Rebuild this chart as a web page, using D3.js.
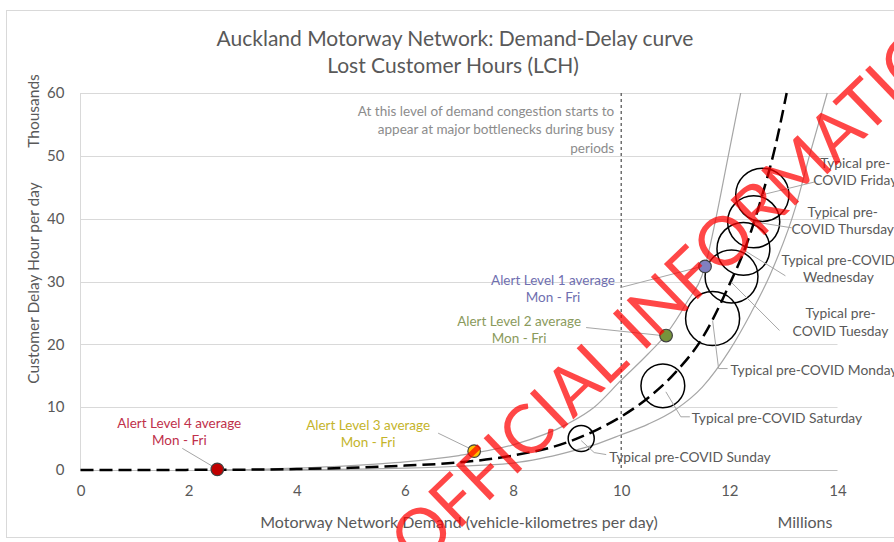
<!DOCTYPE html>
<html>
<head>
<meta charset="utf-8">
<script src="https://cdn.jsdelivr.net/npm/d3@7"></script>
<style>
body { margin: 0; background: #fff; }
svg { display: block; font-family: Lato, "Open Sans", sans-serif; }
</style>
</head>
<body>
<svg width="894" height="542"></svg>
<script>
// demand (millions vkt/day) vs delay (thousand hours/day)
var fitX = [0, 1, 2, 3, 4, 5, 6, 7, 8, 9, 9.5, 10, 10.5, 11, 11.5, 12, 12.3, 12.6, 12.85, 13.06];
var fitY = [0, 0, 0.02, 0.05, 0.15, 0.35, 0.7, 1.2, 2.3, 4.4, 6.2, 8.5, 11.5, 15.5, 21, 29.5, 35.5, 43.5, 51.5, 60];

var upperX = [2.5, 4, 5, 6, 7, 8, 9, 9.5, 10, 10.5, 10.83, 11.2, 11.55, 11.75, 11.98, 12.21];
var upperY = [0, 0.3, 0.7, 1.3, 2.3, 4.0, 7.3, 10, 14.3, 18.5, 21.6, 26.5, 32.4, 40, 50, 60];

var lowerX = [2.5, 4, 6, 7, 8, 8.5, 9, 9.5, 10, 10.5, 11, 11.5, 12, 12.4, 12.75, 13.23, 13.48, 13.81];
var lowerY = [0, 0.05, 0.3, 0.6, 1.1, 1.8, 2.8, 4.0, 5.6, 7.3, 9.6, 13.2, 19, 25, 31, 42, 50, 60];

var days = ["Sunday", "Saturday", "Monday", "Tuesday", "Wednesday", "Thursday", "Friday"];
var dayX = [9.26, 10.77, 11.69, 12.04, 12.26, 12.45, 12.61];
var dayY = [5.0, 13.4, 24.1, 30.8, 35.2, 39.5, 43.8];
var daySize = [1.7, 4.8, 7.3, 7.0, 7.0, 6.8, 7.1];

var alerts = ["Alert Level 4 average", "Alert Level 3 average", "Alert Level 2 average", "Alert Level 1 average"];
var alertX = [2.53, 7.28, 10.83, 11.55];
var alertY = [0.1, 3.0, 21.4, 32.4];

var xTicks = [0, 2, 4, 6, 8, 10, 12, 14];
var yTicks = [0, 10, 20, 30, 40, 50, 60];
var congestionX = 10;

var svg = d3.select("svg");

var x = d3.scaleLinear().domain([0, 14]).range([80.5, 837.5]),
    y = d3.scaleLinear().domain([0, 60]).range([470, 93]),
    r = d3.scaleSqrt().domain([0, 7.3]).range([0, 27]);

// chart frame
svg.append("rect")
    .attr("x", 6.5).attr("y", 10.5)
    .attr("width", 900).attr("height", 527)
    .attr("fill", "none").attr("stroke", "#d9d9d9");

// titles
svg.append("text")
    .attr("x", 455).attr("y", 37)
    .attr("text-anchor", "middle").attr("dominant-baseline", "central")
    .attr("font-size", 21).attr("fill", "#595959")
    .text("Auckland Motorway Network: Demand-Delay curve");
svg.append("text")
    .attr("x", 453).attr("y", 64)
    .attr("text-anchor", "middle").attr("dominant-baseline", "central")
    .attr("font-size", 21).attr("fill", "#595959")
    .text("Lost Customer Hours (LCH)");

// gridlines
svg.selectAll(".grid")
    .data(yTicks.slice(1))
    .enter().append("line")
    .attr("x1", x(0)).attr("x2", x(14))
    .attr("y1", function(d) { return Math.round(y(d)) + 0.5; })
    .attr("y2", function(d) { return Math.round(y(d)) + 0.5; })
    .attr("stroke", "#d9d9d9");

svg.append("line")
    .attr("x1", x(0)).attr("x2", x(0))
    .attr("y1", y(60)).attr("y2", y(0))
    .attr("stroke", "#d9d9d9");
svg.append("line")
    .attr("x1", x(0)).attr("x2", x(14))
    .attr("y1", y(0) + 0.5).attr("y2", y(0) + 0.5)
    .attr("stroke", "#bfbfbf");

// axes
var gx = svg.append("g")
    .attr("transform", "translate(0," + y(0) + ")")
    .call(d3.axisBottom(x).tickValues(xTicks).tickSize(0).tickPadding(15));
var gy = svg.append("g")
    .attr("transform", "translate(" + x(0) + ",0)")
    .call(d3.axisLeft(y).tickValues(yTicks).tickSize(0).tickPadding(16));
[gx, gy].forEach(function(g) {
    g.select(".domain").remove();
    g.selectAll("text")
        .attr("font-family", "Lato, sans-serif")
        .attr("font-size", 15)
        .attr("fill", "#595959");
});

svg.append("text")
    .attr("x", 459).attr("y", 521)
    .attr("text-anchor", "middle").attr("dominant-baseline", "central")
    .attr("font-size", 16).attr("fill", "#595959")
    .text("Motorway Network Demand (vehicle-kilometres per day)");
svg.append("text")
    .attr("x", 805).attr("y", 521)
    .attr("text-anchor", "middle").attr("dominant-baseline", "central")
    .attr("font-size", 16).attr("fill", "#595959")
    .text("Millions");
svg.append("text")
    .attr("transform", "translate(33,283) rotate(-90)")
    .attr("text-anchor", "middle").attr("dominant-baseline", "central")
    .attr("font-size", 15.5).attr("fill", "#595959")
    .text("Customer Delay Hour per day");
svg.append("text")
    .attr("transform", "translate(33,111) rotate(-90)")
    .attr("text-anchor", "middle").attr("dominant-baseline", "central")
    .attr("font-size", 15.5).attr("fill", "#595959")
    .text("Thousands");

// congestion threshold
svg.append("line")
    .attr("x1", x(congestionX)).attr("x2", x(congestionX))
    .attr("y1", y(60)).attr("y2", y(0))
    .attr("stroke", "#595959").attr("stroke-width", 1.3)
    .attr("stroke-dasharray", "3,3");

var note = ["At this level of demand congestion starts to",
            "appear at major bottlenecks during busy",
            "periods"];
svg.selectAll(".note")
    .data(note)
    .enter().append("text")
    .attr("x", x(congestionX) - 7)
    .attr("y", function(d, i) { return 111 + i * 18.3; })
    .attr("text-anchor", "end").attr("dominant-baseline", "central")
    .attr("font-size", 13.5).attr("fill", "#8c8c8c")
    .text(function(d) { return d; });

// curves
var line = d3.line()
    .x(function(d) { return x(d[0]); })
    .y(function(d) { return y(d[1]); })
    .curve(d3.curveMonotoneX);

svg.append("path")
    .attr("d", line(d3.zip(upperX, upperY)))
    .attr("fill", "none").attr("stroke", "#a6a6a6").attr("stroke-width", 1.2);
svg.append("path")
    .attr("d", line(d3.zip(lowerX, lowerY)))
    .attr("fill", "none").attr("stroke", "#a6a6a6").attr("stroke-width", 1.2);
svg.append("path")
    .attr("d", line(d3.zip(fitX, fitY)))
    .attr("fill", "none").attr("stroke", "#000").attr("stroke-width", 2.5)
    .attr("stroke-dasharray", "13,6");

// day bubbles
svg.selectAll(".bubble")
    .data(days)
    .enter().append("circle")
    .attr("cx", function(d, i) { return x(dayX[i]); })
    .attr("cy", function(d, i) { return y(dayY[i]); })
    .attr("r", function(d, i) { return r(daySize[i]); })
    .attr("fill", "none").attr("stroke", "#000").attr("stroke-width", 1.5);

// day labels: text lines, anchor, text offset, leader offsets
var dayLayout = {
    Sunday:    {lines: ["Typical pre-COVID Sunday"], anchor: "start", dx: 28, dy: 18, lead: [[0, 2], [13, 14], [25, 16]]},
    Saturday:  {lines: ["Typical pre-COVID Saturday"], anchor: "start", dx: 29, dy: 32, lead: [[3, 6], [18, 31], [27, 31]]},
    Monday:    {lines: ["Typical pre-COVID Monday"], anchor: "start", dx: 18, dy: 51, lead: [[0, 2], [6, 50], [15, 50]]},
    Tuesday:   {lines: ["Typical pre-", "COVID Tuesday"], anchor: "middle", dx: 109, dy: 45, lead: [[0, 6], [48, 54]]},
    Wednesday: {lines: ["Typical pre-COVID", "Wednesday"], anchor: "middle", dx: 95, dy: 19, lead: [[0, 1], [42, 27]]},
    Thursday:  {lines: ["Typical pre-", "COVID Thursday"], anchor: "middle", dx: 89, dy: -2, lead: [[0, 0], [38, 6]]},
    Friday:    {lines: ["Typical pre-", "COVID Friday"], anchor: "middle", dx: 93, dy: -24, lead: [[0, 0], [53, -13]]}
};

days.forEach(function(d, i) {
    var cx = x(dayX[i]), cy = y(dayY[i]), L = dayLayout[d];
    svg.append("path")
        .attr("d", d3.line()(L.lead.map(function(p) { return [cx + p[0], cy + p[1]]; })))
        .attr("fill", "none").attr("stroke", "#a6a6a6").attr("stroke-width", 1);
    L.lines.forEach(function(t, j) {
        svg.append("text")
            .attr("x", cx + L.dx)
            .attr("y", cy + L.dy + j * 17.5 - (L.lines.length - 1) * 8.75)
            .attr("text-anchor", L.anchor).attr("dominant-baseline", "central")
            .attr("font-size", 13.8).attr("fill", "#595959")
            .text(t);
    });
});

// alert level points
var alertFill = ["#c00000", "#ffc000", "#77933c", "#8080c0"];
var alertText = ["#c0304a", "#c4b42a", "#8a9a5b", "#6f6fb0"];
var alertLayout = [
    {dx: -38, dy: -38, lead: [[-35, -21], [-3, -2]]},
    {dx: -106, dy: -18, lead: [[-36, -18], [-3, -2]]},
    {dx: -147, dy: -6, lead: [[-80, -8], [-4, 0]]},
    {dx: -152, dy: 22, lead: [[-84, 21], [-3, 0]]}
];

alerts.forEach(function(d, i) {
    var cx = x(alertX[i]), cy = y(alertY[i]), L = alertLayout[i];
    svg.append("path")
        .attr("d", d3.line()(L.lead.map(function(p) { return [cx + p[0], cy + p[1]]; })))
        .attr("fill", "none").attr("stroke", "#a6a6a6").attr("stroke-width", 1);
    [d, "Mon - Fri"].forEach(function(t, j) {
        svg.append("text")
            .attr("x", cx + L.dx)
            .attr("y", cy + L.dy + j * 17 - 8.5)
            .attr("text-anchor", "middle").attr("dominant-baseline", "central")
            .attr("font-size", 13.5).attr("fill", alertText[i])
            .text(t);
    });
});

svg.selectAll(".alert")
    .data(alerts)
    .enter().append("circle")
    .attr("cx", function(d, i) { return x(alertX[i]); })
    .attr("cy", function(d, i) { return y(alertY[i]); })
    .attr("r", 6.3)
    .attr("fill", function(d, i) { return alertFill[i]; })
    .attr("stroke", "#404040").attr("stroke-width", 1.2);

// watermark
svg.append("text")
    .attr("transform", "translate(400,550) rotate(-44)")
    .attr("dominant-baseline", "central")
    .attr("font-family", "Lato, sans-serif")
    .attr("font-size", 68)
    .attr("fill", "rgba(255,0,0,0.72)")
    .text("OFFICIAL INFORMATION");
</script>
</body>
</html>
